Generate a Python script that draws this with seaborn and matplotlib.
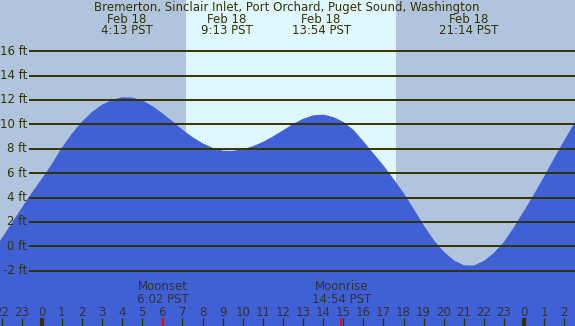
import numpy as np
import pandas as pd
import matplotlib
matplotlib.use("Agg")
import matplotlib.pyplot as plt
import seaborn as sns

# hours relative to Feb 18 00:00 PST, tide height in ft
HOURS = [-2.5, -2.0, -1.5, -1.0, -0.5, 0.0, 0.5, 1.0, 1.5, 2.0, 2.5, 3.0, 3.5,
         4.0, 4.5, 5.0, 5.5, 6.0, 6.5, 7.0, 7.5, 8.0, 8.5, 9.0, 9.5, 10.0,
         10.5, 11.0, 11.5, 12.0, 12.5, 13.0, 13.5, 14.0, 14.5, 15.0, 15.5,
         16.0, 16.5, 17.0, 17.5, 18.0, 18.5, 19.0, 19.5, 20.0, 20.5, 21.0,
         21.5, 22.0, 22.5, 23.0, 23.5, 24.0, 24.5, 25.0, 25.5, 26.0, 26.5, 27.0]
HEIGHT_FT = [-0.55, 0.55, 1.8, 3.05, 4.3, 5.45, 6.65, 8.0, 9.15, 10.15, 10.95,
             11.55, 11.95, 12.17, 12.15, 11.92, 11.45, 10.85, 10.2, 9.5, 8.9,
             8.4, 8.02, 7.8, 7.78, 7.9, 8.15, 8.5, 8.95, 9.45, 9.97, 10.4,
             10.68, 10.75, 10.55, 10.15, 9.5, 8.55, 7.55, 6.55, 5.45, 4.3, 3.0,
             1.65, 0.45, -0.5, -1.2, -1.6, -1.62, -1.25, -0.6, 0.3, 1.5, 2.85,
             4.2, 5.65, 7.15, 8.6, 10.0, 11.0]

TITLE = "Bremerton, Sinclair Inlet, Port Orchard, Puget Sound, Washington"
EXTREMA_HOURS = [4.22, 9.22, 13.9, 21.23]
EXTREMA_LABELS = ["4:13 PST", "9:13 PST", "13:54 PST", "21:14 PST"]
SUNRISE, SUNSET = 7.18, 17.63
MOON_HOURS = [6.03, 14.9]
MOON_LABELS = ["Moonset\n6:02 PST", "Moonrise\n14:54 PST"]
GRID_FT = [-2, 0, 2, 4, 6, 8, 10, 12, 14, 16]
HOUR_TICKS = list(range(-2, 27))

NIGHT = "#B0C4DE"
DAY = "#DFF7FE"
WATER = "#4060D5"
INK = "#333300"

df = pd.DataFrame({"hour": HOURS, "ft": HEIGHT_FT})

sns.set_theme(style="white")
plt.rcParams["font.family"] = ["DejaVu Sans"]

fig = plt.figure(figsize=(5.75, 3.26), dpi=100, facecolor=NIGHT)
ax = fig.add_axes([0, 0, 1, 1])
ax.set_facecolor(NIGHT)
ax.set_xlim(-2.075, 26.53)
ax.set_ylim(-6.53, 20.19)
ax.set_xticks([])
ax.set_yticks([])
for s in ax.spines.values():
    s.set_visible(False)
ax.set_xlabel("")
ax.set_ylabel("")

ax.axvspan(SUNRISE, SUNSET, color=DAY, lw=0, zorder=0)
ax.fill_between(df["hour"], df["ft"], -10, color=WATER, lw=0, zorder=1)
sns.lineplot(data=df, x="hour", y="ft", color=WATER, lw=0.8, ax=ax, zorder=2)
ax.set_xlabel("")
ax.set_ylabel("")

# horizontal grid lines with ft labels
ax.hlines(GRID_FT, -0.63, 27, color=INK, lw=1.4, zorder=3)
for v in GRID_FT:
    ax.text(-0.73, v, f"{v} ft", ha="right", va="center", fontsize=8.5,
            color=INK, zorder=4)

# title and tide extrema labels
ax.text(12.2, 19.6, TITLE, ha="center", va="center", fontsize=8.5, color=INK)
for h, lab in zip(EXTREMA_HOURS, EXTREMA_LABELS):
    ax.text(h, 18.63, "Feb 18", ha="center", va="center", fontsize=8.5, color=INK)
    ax.text(h, 17.65, lab, ha="center", va="center", fontsize=8.5, color=INK)

# moon events
for h, lab in zip(MOON_HOURS, MOON_LABELS):
    ax.text(h, -3.83, lab, ha="center", va="center", fontsize=8.5,
            color="#333333", linespacing=1.0)
    ax.vlines(h, -7, -5.88, color="red", lw=1.5, zorder=5)

# hour axis at the bottom
for h in HOUR_TICKS:
    ax.text(h, -5.39, str(h % 24), ha="center", va="center", fontsize=8.5,
            color="#333333")
    ax.vlines(h, -7, -5.88, color=INK, lw=3 if h % 24 == 0 else 0.9, zorder=4)

fig.savefig("out.png", dpi=100, facecolor=NIGHT)
